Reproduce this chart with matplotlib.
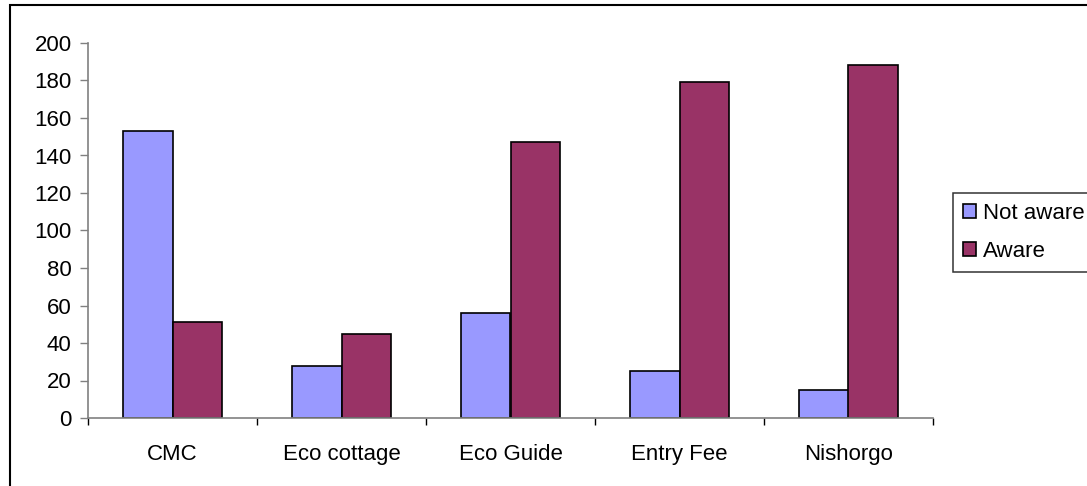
import matplotlib
matplotlib.use("Agg")
import matplotlib.pyplot as plt
from matplotlib.patches import Rectangle, Patch
import numpy as np

categories = ["CMC", "Eco cottage", "Eco Guide", "Entry Fee", "Nishorgo"]
not_aware = [153, 28, 56, 25, 15]
aware = [51, 45, 147, 179, 188]
series_names = ["Not aware", "Aware"]
yticks = [0, 20, 40, 60, 80, 100, 120, 140, 160, 180, 200]

plt.rcParams['font.family'] = ['Liberation Sans', 'DejaVu Sans']
FS = 16

W, H = 1087, 486
fig = plt.figure(figsize=(W / 100, H / 100), dpi=100)
fig.patch.set_facecolor('white')

# outer frame (right and bottom edges cut off)
fig.patches.append(Rectangle((10 / W, -0.2), 2.0, (H - 5) / H + 0.2,
                             transform=fig.transFigure, fill=False,
                             edgecolor='black', linewidth=1.5))

ax = fig.add_axes([88 / W, (H - 418) / H, (933 - 88) / W, (418 - 43) / H])
x = np.arange(len(categories))
bw = 0.293
c1, c2 = '#9999FF', '#993366'
ax.bar(x - bw / 2, not_aware, bw, color=c1, edgecolor='black', linewidth=1.2)
ax.bar(x + bw / 2, aware, bw, color=c2, edgecolor='black', linewidth=1.2)

ax.set_xlim(-0.5, len(categories) - 0.5)
ax.set_ylim(0, 200)
ax.set_yticks(yticks)
ax.set_yticklabels([str(v) for v in yticks], fontsize=FS)
ax.tick_params(axis='y', direction='out', length=5.8, width=1, color='#808080', pad=6)

ax.set_xticks(np.arange(-0.5, len(categories), 1.0))
ax.set_xticklabels([])
ax.tick_params(axis='x', which='major', direction='out', length=5, width=1, color='black')
ax.set_xticks(x, minor=True)
ax.set_xticklabels(categories, minor=True, fontsize=FS)
ax.tick_params(axis='x', which='minor', length=0, pad=18.5)

for s in ['top', 'right']:
    ax.spines[s].set_visible(False)
for s in ['left', 'bottom']:
    ax.spines[s].set_color('#808080')
    ax.spines[s].set_linewidth(1.2)

handles = [Patch(facecolor=c1, edgecolor='black', linewidth=1.2),
           Patch(facecolor=c2, edgecolor='black', linewidth=1.2)]
leg = fig.legend(handles, series_names, loc='upper left',
                 bbox_to_anchor=(953 / W, 1 - 193 / H), bbox_transform=fig.transFigure,
                 fontsize=FS, frameon=True, fancybox=False, shadow=False,
                 handlelength=0.58, handleheight=0.58, handletextpad=0.3,
                 labelspacing=0.76, borderpad=0.45, borderaxespad=0)
leg.get_frame().set_edgecolor('black')
leg.get_frame().set_linewidth(1.1)

fig.savefig('out.png', dpi=100)
